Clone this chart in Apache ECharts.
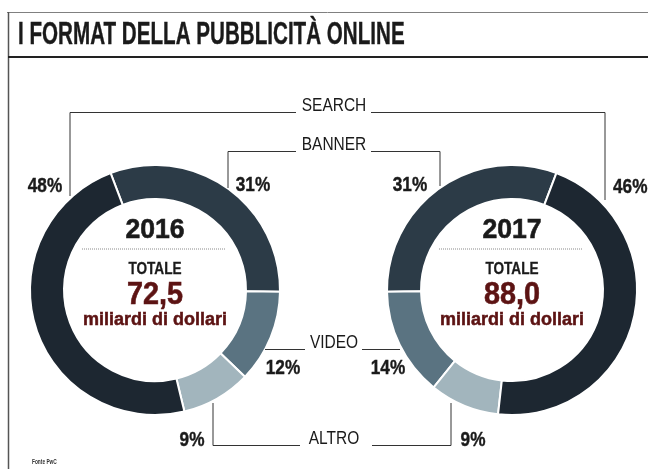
<!DOCTYPE html>
<html>
<head>
<meta charset="utf-8">
<script src="https://cdn.jsdelivr.net/npm/echarts@6/dist/echarts.min.js"></script>
<style>
  html, body { margin: 0; padding: 0; background: #ffffff; }
  #chart { width: 648px; height: 469px; }
</style>
</head>
<body>
<div id="chart"></div>
<script>
// Ad formats and their share of online ad spend
const segments = ['SEARCH', 'BANNER', 'VIDEO', 'ALTRO'];
const share2016 = [48, 31, 12, 9];
const share2017 = [46, 31, 14, 9];
const years = ['2016', '2017'];
const totals = [72.5, 88.0];          // billions of dollars
const segmentColors = ['#1d2731', '#2c3b47', '#5a7381', '#a2b5bd'];

const FONT = '"Liberation Sans", Arial, sans-serif';
const INK = '#1a1a1a';
const RED = '#5c1313';

// ring layout: banner, video, altro, search around each ring
const ringOrder = [1, 2, 3, 0];
function ringData(shares) {
  return ringOrder.map(i => ({
    name: segments[i],
    value: shares[i],
    itemStyle: { color: segmentColors[i] }
  }));
}

function txt(x, y, str, size, opts) {
  opts = opts || {};
  const color = opts.color || INK;
  return {
    type: 'text',
    x: x, y: y,
    scaleX: opts.sx || 1,
    silent: true,
    z: 10,
    style: {
      x: 0, y: 0,
      text: str,
      font: (opts.weight || 'bold') + ' ' + size + 'px ' + FONT,
      fill: color,
      stroke: opts.heavy ? color : null,
      lineWidth: opts.heavy || 0,
      textAlign: opts.align || 'left',
      textVerticalAlign: 'middle'
    }
  };
}
function line(points, width, color, dash) {
  return {
    type: 'polyline',
    silent: true,
    z: 5,
    shape: { points: points },
    style: { stroke: color || '#333', lineWidth: width || 1, fill: null, lineDash: dash || null }
  };
}
function fmt(v) { return v.toFixed(1).replace('.', ','); }
function pct(v) { return v + '%'; }

const centers = [[155, 290], [512, 290]];
const graphics = [];

// frame and title
graphics.push(line([[7, 12.5], [648, 12.5]], 1, '#808080'));
graphics.push(line([[8.5, 12], [8.5, 469]], 1.5, '#555'));
graphics.push(line([[8, 57], [648, 57]], 2, '#222'));
graphics.push(txt(18, 35, 'I FORMAT DELLA PUBBLICITÀ ONLINE', 31, { sx: 0.665, heavy: 0.4 }));
graphics.push(txt(32, 462, 'Fonte PwC', 8, { sx: 0.6, color: '#333' }));

// centre captions
years.forEach((yr, k) => {
  const cx = centers[k][0];
  graphics.push(txt(cx, 230, yr, 28, { align: 'center', sx: 0.95, heavy: 0.6 }));
  graphics.push(line([[cx - 73, 249], [cx + 70, 249]], 1, '#8a8a8a', [1, 1]));
  graphics.push(txt(cx, 269, 'TOTALE', 17, { align: 'center', sx: 0.8, heavy: 0.3 }));
  graphics.push(txt(cx, 295, fmt(totals[k]), 32, { align: 'center', sx: 0.9, color: RED, heavy: 0.6 }));
  graphics.push(txt(cx, 320, 'miliardi di dollari', 18, { align: 'center', color: RED, heavy: 0.5 }));
});

// segment names with their leader lines
const nameY = [106, 145, 343, 439];
segments.forEach((s, i) => {
  graphics.push(txt(334, nameY[i], s, 18, { align: 'center', weight: 'normal', sx: 0.86 }));
});
graphics.push(line([[70, 196], [70, 112.5], [296, 112.5]]));
graphics.push(line([[371, 112.5], [605, 112.5], [605, 200]]));
graphics.push(line([[228, 188], [228, 151.5], [296, 151.5]]));
graphics.push(line([[371, 151.5], [440, 151.5], [440, 186]]));
graphics.push(line([[265, 349.5], [305, 349.5]]));
graphics.push(line([[362, 349.5], [400, 349.5]]));
graphics.push(line([[213, 403], [213, 445.5], [300, 445.5]]));
graphics.push(line([[372, 445.5], [451, 445.5], [451, 403]]));

// percentage labels (search, banner, video, altro)
const labelPos2016 = [[45, 186, 'center'], [253, 185, 'center'], [283, 368, 'center'], [192, 440, 'center']];
const labelPos2017 = [[613, 187, 'left'], [410, 185, 'center'], [388, 368, 'center'], [473, 440, 'center']];
[[share2016, labelPos2016], [share2017, labelPos2017]].forEach(([shares, pos]) => {
  shares.forEach((v, i) => {
    graphics.push(txt(pos[i][0], pos[i][1], pct(v), 20, { align: pos[i][2], sx: 0.86, heavy: 0.4 }));
  });
});

function ring(center, shares, clockwise, startAngle) {
  return {
    type: 'pie',
    center: center,
    radius: [91, 125],
    clockwise: clockwise,
    startAngle: startAngle,
    silent: true,
    animation: false,
    label: { show: false },
    labelLine: { show: false },
    itemStyle: { borderColor: '#ffffff', borderWidth: 2 },
    data: ringData(shares)
  };
}

const chart = echarts.init(document.getElementById('chart'), null, { renderer: 'canvas' });
chart.setOption({
  animation: false,
  backgroundColor: '#ffffff',
  series: [
    ring(centers[0], share2016, true, 110.8),
    ring(centers[1], share2017, false, 69.2)
  ],
  graphic: { elements: graphics }
});
</script>
</body>
</html>
